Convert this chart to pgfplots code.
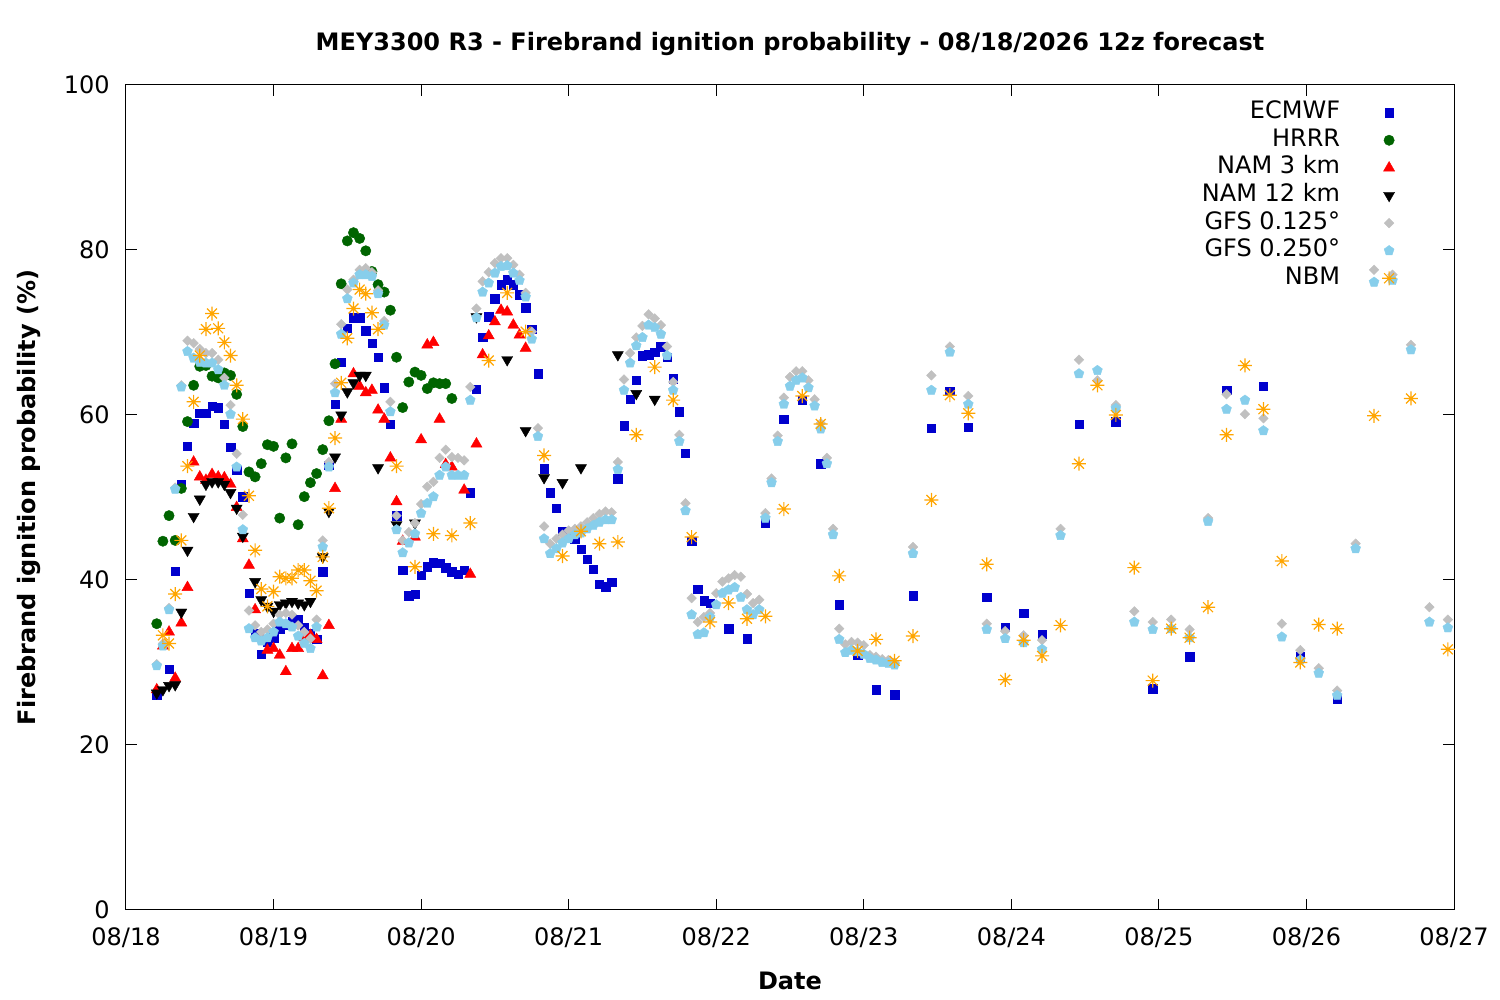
\documentclass[border=0pt]{standalone}
\usepackage{fontspec}
\setmainfont{DejaVu Sans}
\usepackage{pgfplots}
\pgfplotsset{compat=1.18}
\definecolor{ecblue}{RGB}{0,0,205}
\definecolor{hrgreen}{RGB}{0,100,0}
\definecolor{gfsgray}{RGB}{192,192,192}
\definecolor{gfsblue}{RGB}{135,206,235}
\definecolor{nbmorange}{RGB}{255,165,0}
\pgfdeclareplotmark{gpstar}{%
 \pgfpathmoveto{\pgfqpoint{-\pgfplotmarksize}{0pt}}\pgfpathlineto{\pgfqpoint{\pgfplotmarksize}{0pt}}%
 \pgfpathmoveto{\pgfqpoint{0pt}{-\pgfplotmarksize}}\pgfpathlineto{\pgfqpoint{0pt}{\pgfplotmarksize}}%
 \pgfpathmoveto{\pgfqpoint{-.707\pgfplotmarksize}{-.707\pgfplotmarksize}}\pgfpathlineto{\pgfqpoint{.707\pgfplotmarksize}{.707\pgfplotmarksize}}%
 \pgfpathmoveto{\pgfqpoint{-.707\pgfplotmarksize}{.707\pgfplotmarksize}}\pgfpathlineto{\pgfqpoint{.707\pgfplotmarksize}{-.707\pgfplotmarksize}}%
 \pgfusepathqstroke}
\newcommand{\lgap}{\rule{21pt}{0pt}}
\begin{document}
\begin{tikzpicture}
\useasboundingbox (-63pt,-45pt) rectangle (687pt,455pt);
\begin{axis}[
 at={(0,0)}, anchor=south west,
 scale only axis, width=664pt, height=412.5pt,
 xmin=0, xmax=216, ymin=0, ymax=100,
 xtick={0,24,...,216},
 xticklabels={08/18,08/19,08/20,08/21,08/22,08/23,08/24,08/25,08/26,08/27},
 ytick={0,20,...,100},
 tick align=inside, major tick length=5.5pt,
 axis line style={line width=0.5pt},
 every tick/.style={black, line width=0.5pt},
 /pgf/number format/assume math mode=true,
 ticklabel style={font=\fontsize{12}{14}\selectfont},
 xticklabel style={anchor=base, yshift=-18pt},
 yticklabel style={anchor=east, inner sep=0pt, xshift=-8pt},
 title={MEY3300 R3 - Firebrand ignition probability - 08/18/2026 12z forecast},
 title style={font=\fontsize{12}{14}\selectfont\bfseries, at={([yshift=11pt]axis description cs:0.5,1)}, anchor=base},
 xlabel={Date},
 xlabel style={font=\fontsize{12}{14}\selectfont\bfseries, at={([yshift=-40pt]axis description cs:0.5,0)}, anchor=base},
 ylabel={Firebrand ignition probability (\%)},
 ylabel style={font=\fontsize{12}{14}\selectfont\bfseries, at={([xshift=-48.5pt]axis description cs:0,0.5)}, anchor=center},
 legend plot pos=right,
 legend cell align=right,
 legend style={draw=none, fill=none, inner sep=0pt, outer sep=0pt,
   at={(axis description cs:0.9564,0.981)}, anchor=north east,
   font=\fontsize{12}{14}\selectfont, row sep=1.8pt,
   nodes={inner sep=0pt, text height=9pt, text depth=3pt}},
]
\addplot[only marks, color=ecblue, mark=square*, mark size=2.1pt, mark options={line width=0.2pt}] coordinates {
(5,26.0)(7,29.2)(8,41.1)(9,51.6)(10,56.2)(11,59.0)(12,60.2)(13,60.2)(14,61.1)(15,60.9)(16,58.9)(17,56.1)(18,53.3)(19,50.1)(20,38.4)(21,33.5)(22,31.0)(23,32.5)(24,33.0)(25,34.0)(26,34.5)(27,35.0)(28,35.2)(29,34.2)(30,33.5)(31,32.8)(32,41.0)(33,53.9)(34,61.3)(35,66.4)(36,70.5)(37,71.8)(38,71.8)(39,70.2)(40,68.7)(41,67.0)(42,63.3)(43,58.9)(44,47.8)(45,41.2)(46,38.1)(47,38.3)(48,40.6)(49,41.6)(50,42.1)(51,42.0)(52,41.5)(53,41.0)(54,40.7)(55,41.2)(56,50.6)(57,63.1)(58,69.4)(59,71.9)(60,74.1)(61,75.8)(62,76.4)(63,75.8)(64,74.6)(65,73.0)(66,70.4)(67,65.0)(68,53.5)(69,50.6)(70,48.7)(71,45.9)(72,45.4)(73,45.0)(74,43.7)(75,42.5)(76,41.3)(77,39.5)(78,39.2)(79,39.7)(80,52.3)(81,58.7)(82,61.9)(83,64.2)(84,67.2)(85,67.3)(86,67.6)(87,68.3)(88,67.0)(89,64.4)(90,60.4)(91,55.4)(92,44.7)(93,38.9)(94,37.5)(95,37.2)(98,34.1)(101,32.9)(104,46.9)(107,59.5)(110,61.8)(113,54.1)(116,37.0)(119,30.9)(122,26.7)(125,26.1)(128,38.1)(131,58.4)(134,62.9)(137,58.5)(140,37.9)(143,34.3)(146,36.0)(149,33.4)(155,58.9)(161,59.2)(167,26.8)(173,30.7)(179,63.0)(185,63.5)(191,30.7)(197,25.6)
};
\addlegendentry{ECMWF\lgap}
\addplot[only marks, color=hrgreen, mark=*, mark size=2.6pt, mark options={line width=0.2pt}] coordinates {
(5,34.7)(6,44.7)(7,47.8)(8,44.8)(9,51.1)(10,59.2)(11,63.6)(12,65.9)(13,66.0)(14,64.7)(15,64.5)(16,65.1)(17,64.8)(18,62.5)(19,58.6)(20,53.1)(21,52.5)(22,54.1)(23,56.4)(24,56.2)(25,47.5)(26,54.8)(27,56.5)(28,46.7)(29,50.1)(30,51.8)(31,52.9)(32,55.8)(33,59.3)(34,66.2)(35,75.9)(36,81.1)(37,82.1)(38,81.4)(39,79.9)(40,77.4)(41,75.8)(42,74.9)(43,72.7)(44,67.0)(45,60.9)(46,64.0)(47,65.2)(48,64.8)(49,63.2)(50,63.9)(51,63.8)(52,63.8)(53,62.0)
};
\addlegendentry{HRRR\lgap}
\addplot[only marks, color=red, mark=triangle*, mark size=3.2pt, mark options={line width=0.2pt}] coordinates {
(5,26.7)(6,32.0)(7,33.7)(8,28.1)(9,34.8)(10,39.1)(11,54.3)(12,52.5)(13,52.1)(14,52.8)(15,52.5)(16,52.4)(17,51.6)(18,48.8)(19,45.0)(20,41.8)(21,36.4)(22,33.1)(23,31.5)(24,31.7)(25,30.9)(26,28.9)(27,31.7)(28,31.7)(29,33.0)(30,33.3)(31,32.8)(32,28.4)(33,34.5)(34,51.1)(35,59.5)(37,65.0)(38,63.5)(39,62.7)(40,63.0)(41,60.6)(42,59.5)(43,54.8)(44,49.5)(45,44.7)(47,45.2)(48,57.0)(49,68.5)(50,68.8)(51,59.5)(52,54.0)(53,53.7)(55,50.9)(56,40.7)(57,56.5)(58,67.3)(59,69.6)(60,71.3)(61,72.7)(62,72.5)(63,70.9)(64,69.7)(65,68.1)
};
\addlegendentry{NAM 3 km\lgap}
\addplot[only marks, color=black, mark=triangle*, mark size=3.2pt, mark options={line width=0.2pt, rotate=180}] coordinates {
(5,26.3)(6,26.7)(7,27.2)(8,27.3)(9,36.1)(10,43.6)(11,47.7)(12,49.8)(13,51.6)(14,51.9)(15,51.9)(16,51.6)(17,50.6)(18,48.7)(19,45.3)(21,39.8)(22,37.6)(23,36.8)(24,36.2)(25,37.0)(26,37.2)(27,37.4)(28,37.2)(29,37.0)(30,37.4)(32,42.8)(33,48.3)(34,54.9)(35,60.0)(36,62.8)(37,63.9)(38,64.8)(39,64.8)(41,53.6)(44,46.7)(47,46.9)(57,71.9)(62,66.7)(65,58.1)(68,52.4)(71,51.8)(74,53.6)(80,67.3)(83,62.6)(86,61.9)
};
\addlegendentry{NAM 12 km\lgap}
\addplot[only marks, color=gfsgray, mark=square*, mark size=1.7pt, mark options={line width=0.2pt, rotate=45}] coordinates {
(5,29.8)(6,32.3)(7,36.6)(8,51.2)(9,63.6)(10,69.0)(11,68.7)(12,68.0)(13,67.5)(14,67.5)(15,66.7)(16,64.5)(17,61.2)(18,55.3)(19,47.9)(20,36.3)(21,34.5)(22,33.7)(23,34.0)(24,34.7)(25,35.8)(26,36.0)(27,35.8)(28,34.5)(29,33.7)(30,32.9)(31,35.2)(32,44.8)(33,54.3)(34,63.8)(35,71.0)(36,75.2)(37,76.4)(38,77.6)(39,77.8)(40,77.3)(41,75.1)(42,71.4)(43,61.6)(44,47.8)(45,44.8)(46,45.8)(47,46.9)(48,49.2)(49,51.3)(50,51.9)(51,54.8)(52,55.8)(53,54.9)(54,54.8)(55,54.5)(56,63.4)(57,72.9)(58,76.2)(59,77.3)(60,78.4)(61,79.0)(62,79.0)(63,78.2)(64,77.0)(65,74.8)(66,70.1)(67,58.4)(68,46.5)(69,44.4)(70,45.0)(71,45.5)(72,46.0)(73,46.2)(74,46.5)(75,47.0)(76,47.5)(77,48.0)(78,48.3)(79,48.2)(80,54.3)(81,64.3)(82,67.5)(83,69.4)(84,70.8)(85,72.2)(86,71.7)(87,70.9)(88,68.3)(89,64.0)(90,57.6)(91,49.3)(92,37.8)(93,34.9)(94,35.5)(95,36.0)(96,38.4)(97,39.8)(98,40.2)(99,40.6)(100,40.4)(101,38.3)(102,37.2)(103,37.6)(104,48.1)(105,52.3)(106,57.5)(107,62.1)(108,64.6)(109,65.3)(110,65.3)(111,64.2)(112,61.9)(113,59.0)(114,54.8)(115,46.2)(116,34.1)(117,32.2)(118,32.5)(119,32.4)(120,32.1)(121,30.9)(122,30.7)(123,30.4)(124,30.3)(125,30.0)(128,44.0)(131,64.8)(134,68.3)(137,62.3)(140,34.7)(143,33.8)(146,33.3)(149,32.7)(152,46.2)(155,66.7)(158,64.2)(161,61.2)(164,36.2)(167,34.9)(170,35.2)(173,34.0)(176,47.5)(179,62.5)(182,60.1)(185,59.6)(188,34.7)(191,31.5)(194,29.3)(197,26.6)(200,44.4)(203,77.6)(206,77.0)(209,68.5)(212,36.7)(215,35.2)
};
\addlegendentry{GFS 0.125°\lgap}
\addplot[only marks, color=gfsblue, mark=pentagon*, mark size=2.6pt, mark options={line width=0.2pt}] coordinates {
(5,29.6)(6,32.0)(7,36.4)(8,51.0)(9,63.4)(10,67.7)(11,66.9)(12,66.4)(13,66.3)(14,66.3)(15,65.5)(16,63.6)(17,60.1)(18,53.7)(19,46.1)(20,34.1)(21,33.0)(22,32.6)(23,33.0)(24,33.7)(25,34.9)(26,34.7)(27,34.3)(28,33.2)(29,32.3)(30,31.7)(31,34.3)(32,44.0)(33,53.7)(34,62.7)(35,69.8)(36,74.1)(37,76.0)(38,77.0)(39,77.0)(40,76.8)(41,74.7)(42,70.9)(43,60.4)(44,46.1)(45,43.3)(46,44.5)(47,45.6)(48,48.1)(49,49.3)(50,50.1)(51,52.7)(52,53.7)(53,52.7)(54,52.7)(55,52.7)(56,61.8)(57,71.8)(58,74.9)(59,76.0)(60,77.2)(61,78.0)(62,78.1)(63,77.2)(64,76.3)(65,74.3)(66,69.2)(67,57.4)(68,45.0)(69,43.2)(70,43.8)(71,44.5)(72,45.0)(73,45.5)(74,45.7)(75,46.2)(76,46.6)(77,47.0)(78,47.3)(79,47.3)(80,53.4)(81,63.0)(82,66.3)(83,68.4)(84,69.4)(85,70.9)(86,70.6)(87,69.8)(88,67.2)(89,63.0)(90,56.8)(91,48.4)(92,35.8)(93,33.4)(94,33.6)(95,35.5)(96,37.0)(97,38.4)(98,38.8)(99,39.1)(100,37.9)(101,36.4)(102,35.8)(103,36.4)(104,47.5)(105,51.8)(106,56.8)(107,61.3)(108,63.5)(109,64.2)(110,64.5)(111,63.3)(112,61.1)(113,58.3)(114,54.1)(115,45.5)(116,32.8)(117,31.2)(118,31.5)(119,31.3)(120,31.0)(121,30.5)(122,30.3)(123,30.0)(124,29.9)(125,29.7)(128,43.2)(131,63.0)(134,67.6)(137,61.3)(140,34.0)(143,32.9)(146,32.4)(149,31.6)(152,45.4)(155,65.0)(158,65.4)(161,60.8)(164,34.9)(167,34.0)(170,34.1)(173,33.0)(176,47.1)(179,60.7)(182,61.8)(185,58.1)(188,33.1)(191,30.3)(194,28.7)(197,26.0)(200,43.8)(203,76.1)(206,76.3)(209,67.9)(212,34.9)(215,34.2)
};
\addlegendentry{GFS 0.250°\lgap}
\addplot[only marks, color=nbmorange, mark=gpstar, mark size=3.5pt, mark options={line width=0.6pt}] coordinates {
(6,33.3)(7,32.3)(8,38.3)(9,44.8)(10,53.8)(11,61.6)(12,67.2)(13,70.4)(14,72.3)(15,70.5)(16,68.8)(17,67.2)(18,63.6)(19,59.5)(20,50.2)(21,43.6)(22,38.9)(23,36.8)(24,38.6)(25,40.4)(26,40.2)(27,40.2)(28,41.2)(29,41.2)(30,39.9)(31,38.7)(32,42.8)(33,48.7)(34,57.2)(35,63.9)(36,69.3)(37,72.9)(38,75.2)(39,74.7)(40,72.4)(41,70.4)(44,53.8)(47,41.6)(50,45.6)(53,45.4)(56,46.9)(59,66.6)(62,74.8)(65,70.1)(68,55.1)(71,42.9)(74,45.9)(77,44.4)(80,44.6)(83,57.6)(86,65.8)(89,61.8)(92,45.2)(95,34.9)(98,37.2)(101,35.3)(104,35.6)(107,48.6)(110,62.3)(113,58.9)(116,40.5)(119,31.4)(122,32.8)(125,30.2)(128,33.2)(131,49.7)(134,62.4)(137,60.2)(140,41.9)(143,27.9)(146,32.7)(149,30.8)(152,34.5)(155,54.1)(158,63.6)(161,60.0)(164,41.5)(167,27.8)(170,34.1)(173,33.0)(176,36.7)(179,57.6)(182,66.0)(185,60.7)(188,42.3)(191,30.0)(194,34.6)(197,34.1)(203,59.9)(209,62.0)(215,31.6)
};
\addlegendentry{NBM\lgap}
\end{axis}
\end{tikzpicture}
\end{document}
